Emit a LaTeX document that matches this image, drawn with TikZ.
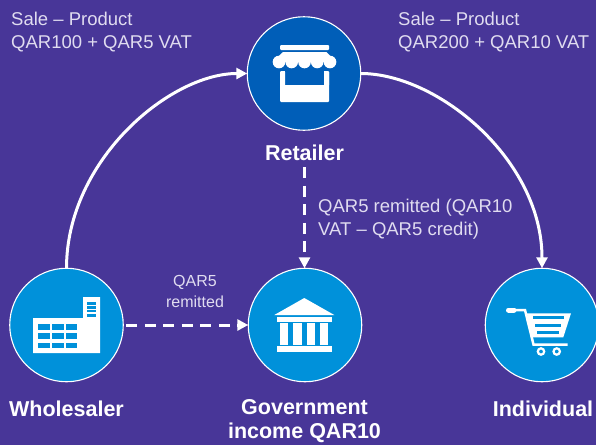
\documentclass[tikz,border=0pt]{standalone}
\usepackage{fontspec}
\setmainfont{Liberation Sans}
\usetikzlibrary{arrows.meta}
\definecolor{bgpurple}{HTML}{483698}
\definecolor{darkblue}{HTML}{005EB8}
\definecolor{lightblue}{HTML}{0091DA}
\definecolor{softtext}{HTML}{E0DCF0}
\tikzset{
  disc/.style={circle,draw=white,line width=1.1pt,minimum size=113.5pt,inner sep=0pt,outer sep=0pt},
  plain/.style={text=softtext,inner sep=0pt,align=left,font=\fontsize{18.5}{23}\selectfont},
  plainc/.style={plain,align=center,font=\fontsize{16}{21}\selectfont},
  title/.style={text=white,inner sep=0pt,align=center,font=\fontsize{21.5}{24.5}\selectfont\bfseries},
  flow/.style={white,line width=3pt,-{Triangle[length=11pt,width=11pt]}},
  dashflow/.style={flow,dash pattern=on 11pt off 7.5pt},
  ink/.style={fill=white,draw=none}
}
\begin{document}
\begin{tikzpicture}[x=1pt,y=-1pt]
\useasboundingbox (0,0) rectangle (596,445);
\fill[bgpurple] (0,0) rectangle (596,445);
% nodes
\node[disc,fill=darkblue] (ret) at (304,73.5) {};
\node[disc,fill=lightblue] (whs) at (66.5,325) {};
\node[disc,fill=lightblue] (gov) at (305,325) {};
\node[disc,fill=lightblue] (ind) at (542,325) {};
\node[title] (retl) at (304.5,153) {Retailer};
\node[title] (whsl) at (66.5,409) {Wholesaler};
\node[title] (govl) at (304.5,421) {Government\\income QAR10};
\node[title] (indl) at (543,409) {Individual};
\node[plain,anchor=west] (t1) at (11,32) {Sale – Product\\QAR100 + QAR5 VAT};
\node[plain,anchor=west] (t2) at (398,32) {Sale – Product\\QAR200 + QAR10 VAT};
\node[plain,anchor=west] (t3) at (318,219) {QAR5 remitted (QAR10\\VAT – QAR5 credit)};
\node[plainc] (t4) at (195,291) {QAR5\\remitted};
% connectors
\draw[flow] (whs.north) .. controls (66.5,160) and (170,73.5) .. (ret.west);
\draw[flow] (ret.east) .. controls (438,73.5) and (542,160) .. (ind.north);
\draw[dashflow,shorten <=6pt] (retl.south) -- (gov.north -| retl.south);
\draw[dashflow,shorten <=3pt] (whs.east) -- (gov.west);
% retailer icon
\fill[ink,rounded corners=1pt] (280,45) rectangle (329,50);
\fill[ink] (283,52) -- (326.5,52) -- (336.3,62) -- (272.7,62) -- cycle;
\foreach \c in {279,291.7,304.5,317.2,330} \fill[ink] (\c,62) circle[radius=6.3];
\fill[ink,rounded corners=1pt,even odd rule] (280,71) rectangle (329,102) (285,71) rectangle (324,85);
\fill[darkblue] (285,70) rectangle (324,85);
\fill[ink] (280,72) rectangle (285,85) (324,72) rectangle (329,85);
% wholesaler icon
\fill[ink] (33,318) -- (83,318) -- (83,297) -- (100,297) -- (100,353) -- (33,353) -- cycle;
\foreach \ya/\yb in {324/330,333/339,343/348}
  \foreach \xa/\xb in {38/50,52/64,66/77}
    \fill[lightblue] (\xa,\ya) rectangle (\xb,\yb);
\foreach \ya/\yb in {302/305,306/308.5,310/312,314/317}
  \fill[lightblue] (87,\ya) rectangle (96,\yb);
% government icon
\fill[ink] (304.3,298) -- (334.3,315) -- (274.3,315) -- cycle;
\fill[ink] (276.7,316.7) rectangle (331.7,322.3);
\foreach \xa/\xb in {280/288.3,293.3/301.7,306.7/315,320/328.3}
  \fill[ink] (\xa,323.3) rectangle (\xb,345);
\fill[ink] (276.7,346) rectangle (332,352.3);
% cart icon
\draw[white,line width=5pt,line cap=round] (508.5,310) -- (514,310);
\draw[white,line width=2.5pt] (514,310) -- (525,310) -- (533.5,344.5) -- (567.7,344.5);
\fill[ink] (526.7,313.3) -- (571,313.3) -- (563.3,337.3) -- (532.3,337.3) -- cycle;
\fill[lightblue] (533,316) rectangle (563.5,319);
\fill[lightblue] (535,323.5) rectangle (561,326.5);
\fill[lightblue] (537,331) rectangle (559,334);
\draw[white,line width=2.2pt] (541,351.5) circle[radius=3.2];
\draw[white,line width=2.2pt] (556.7,351.5) circle[radius=3.2];
\end{tikzpicture}
\end{document}
